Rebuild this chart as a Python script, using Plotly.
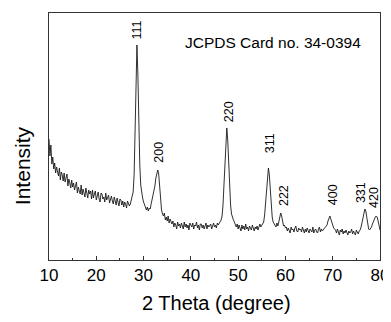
import numpy as np
import plotly.graph_objects as go

# Intensity (arbitrary units), 2-theta step 0.2 deg from 10 to 80
intensity = [
    121,104,115,96,103,91,
    97,87,93,89,84,92,80,88,85,79,
    87,78,82,86,74,81,77,72,80,73,
    77,70,74,78,67,73,69,66,75,65,
    71,67,63,72,68,62,70,66,69,61,
    70,62,66,69,60,64,68,61,58,67,
    66,61,63,58,67,60,62,65,57,61,
    64,59,56,63,60,55,62,58,54,61,
    60,55,59,53,58,56,52,59,55,54,
    56,60,61,68,85,125,185,215,185,130,95,75,66,
    62,58,55,52,50,53,49,52,51,56,60,64,
    68,74,82,88,90,86,72,58,50,46,
    44,47,40,43,39,44,37,41,38,36,
    39,33,37,35,31,38,34,36,32,37, 34,31,38,33,36,32,35,30,37,34,
    33,37,31,35,34,38,32,35,30,36, 36,32,35,31,34,37,31,35,33,34,
    36,31,34,37,33,35,32,37,35,37,
    38,40,44,55,75,100,125,132,120,95,70,55,46,42,40,
    38,34,33,36,31,35,32,29,35,31, 34,30,36,31,33,29,34,32,30,35,
    31,29,33,31,34,30,33,36,33,35,
    36,38,45,58,75,88,92,85,68,52,43,38,36,
    35,33,37,34,38,42,47,44,38,34,35,32,
    33,29,32,30,27,33,30,31,28,32, 34,29,28,32,30,31,28,33,29,27,
    31,28,32,30,27,31,29,28,33,27, 30,31,28,27,31,33,28,31,29,30,
    31,32,
    33,35,39,42,44,41,37,34,32,31,
    30,27,31,28,25,30,28,31,26,29, 27,30,26,25,29,27,28,31,26,29,
    27,25,30,28,26,29,
    30,33,38,44,49,51,49,42,35,31,
    30,31,33,36,39,41,43,44,43,39,34,30,
]
two_theta = np.round(np.linspace(10, 80, len(intensity)), 1)

# Peak labels (hkl), label positions and label base heights
hkl_labels = ["111", "200", "220", "311", "222", "400", "331", "420"]
label_x = [28.6, 33.1, 48.0, 56.8, 59.6, 70.0, 75.9, 78.6]
label_y = [219, 95, 136, 105, 52, 53, 55, 50]

card_text = "JCPDS Card no. 34-0394"
x_ticks = [10, 20, 30, 40, 50, 60, 70, 80]
x_title = "2 Theta (degree)"
y_title = "Intensity"

FONT = "Liberation Sans, Arial"

fig = go.Figure()
fig.add_trace(go.Scatter(x=two_theta, y=intensity, mode="lines",
                         line=dict(color="#1a1a1a", width=0.9), showlegend=False))

for t, lx, ly in zip(hkl_labels, label_x, label_y):
    fig.add_annotation(x=lx, y=ly, text=t, textangle=-90, showarrow=False,
                       xanchor="center", yanchor="bottom",
                       font=dict(family=FONT, size=12.5, color="black"))

fig.add_annotation(x=0.677, y=0.879, xref="paper", yref="paper", text=card_text,
                   showarrow=False, xanchor="center", yanchor="middle",
                   font=dict(family=FONT, size=15.5, color="black"))

# axis titles placed as annotations (pixel offsets from plot area)
fig.add_annotation(x=0.505, y=0, xref="paper", yref="paper", text=x_title,
                   showarrow=False, xanchor="center", yanchor="middle", yshift=-43,
                   font=dict(family=FONT, size=20, color="black"))
fig.add_annotation(x=0, y=0.38, xref="paper", yref="paper", text=y_title,
                   textangle=-90, showarrow=False, xanchor="center", yanchor="middle",
                   xshift=-27, font=dict(family=FONT, size=21, color="black"))

# the page body has an 8px margin, so the figure is sized to fit the window
fig.update_layout(
    width=383, height=314,
    margin=dict(l=41, r=11, t=5, b=62, autoexpand=False),
    paper_bgcolor="white", plot_bgcolor="white",
    font=dict(family=FONT, color="black"),
)
fig.update_xaxes(range=[10, 80], tickvals=x_ticks, ticks="inside", ticklen=4,
                 tickcolor="#333", showline=True, linecolor="#333", linewidth=1,
                 mirror=True, showgrid=False, zeroline=False, automargin=False,
                 tickfont=dict(size=17),
                 minor=dict(dtick=5, ticks="inside", ticklen=2, tickcolor="#333"))
fig.update_yaxes(range=[0, 247], showticklabels=False, ticks="", showline=True,
                 linecolor="#333", linewidth=1, mirror=True, showgrid=False,
                 zeroline=False, automargin=False)

fig.write_html("out.html")
